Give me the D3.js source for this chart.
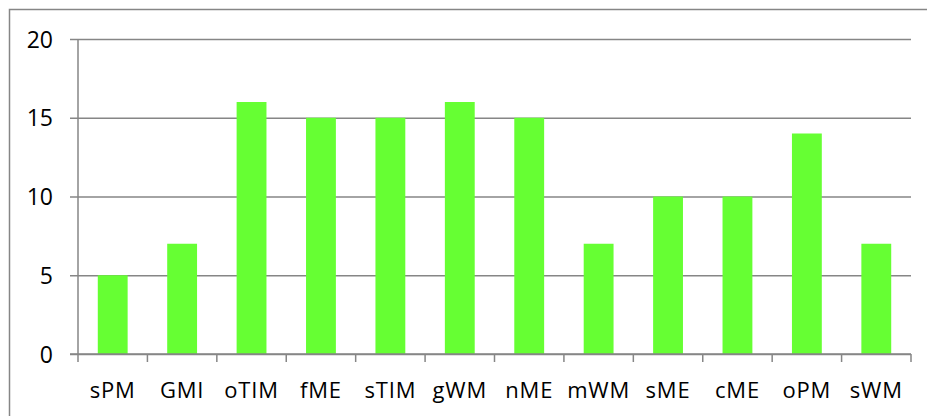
<!DOCTYPE html>
<html>
<head>
<meta charset="utf-8">
<script src="https://cdn.jsdelivr.net/npm/d3@7"></script>
<style>
  html, body { margin: 0; padding: 0; background: #fff; }
  svg { display: block; }
  text { font-family: "Open Sans", Lato, sans-serif; fill: #000; }
</style>
</head>
<body>
<svg id="chart" width="927" height="416"></svg>
<script>
const categories = ["sPM", "GMI", "oTIM", "fME", "sTIM", "gWM", "nME", "mWM", "sME", "cME", "oPM", "sWM"];
const values = [5, 7, 16, 15, 15, 16, 15, 7, 10, 10, 14, 7];
const yTicks = [0, 5, 10, 15, 20];

const svg = d3.select("#chart");
const plotLeft = 78, plotRight = 911, plotTop = 39, plotBottom = 354;
const gridColor = "#868686";

// outer chart frame
svg.append("rect")
  .attr("x", 9.5).attr("y", 9.5)
  .attr("width", 940).attr("height", 430)
  .attr("fill", "none").attr("stroke", gridColor).attr("stroke-width", 1.5);

const x = d3.scaleBand().domain(categories).range([plotLeft, plotRight]).paddingInner(0.57).paddingOuter(0.285);
const xCat = d3.scaleBand().domain(categories).range([plotLeft, plotRight]);
const y = d3.scaleLinear().domain([0, 20]).range([plotBottom, plotTop]);

// horizontal gridlines with left tick stubs
const yAxis = d3.axisLeft(y).tickValues(yTicks).tickSize(-(plotRight - plotLeft)).tickSizeOuter(0).tickFormat(d3.format("d"));
const gy = svg.append("g").attr("transform", `translate(${plotLeft},0)`).call(yAxis);
gy.select(".domain").remove();
gy.selectAll(".tick line").attr("x1", -8).attr("stroke", gridColor).attr("stroke-width", 1.5);
gy.selectAll(".tick text").attr("font-size", 23).attr("dy", "0.35em").attr("x", -25);

// bars
svg.append("g").selectAll("rect").data(values).join("rect")
  .attr("x", (d, i) => x(categories[i]))
  .attr("width", x.bandwidth())
  .attr("y", d => y(d))
  .attr("height", d => y(0) - y(d))
  .attr("fill", "#66FF33");

// vertical axis line
svg.append("line")
  .attr("x1", plotLeft).attr("x2", plotLeft).attr("y1", plotTop).attr("y2", plotBottom + 8)
  .attr("stroke", gridColor).attr("stroke-width", 1.5);

// baseline and category boundary ticks
svg.append("line")
  .attr("x1", plotLeft - 8).attr("x2", plotRight).attr("y1", plotBottom).attr("y2", plotBottom)
  .attr("stroke", gridColor).attr("stroke-width", 1.5);
const bounds = categories.map(c => xCat(c) + xCat.bandwidth());
svg.append("g").selectAll("line").data(bounds).join("line")
  .attr("x1", d => d).attr("x2", d => d)
  .attr("y1", plotBottom).attr("y2", plotBottom + 8)
  .attr("stroke", gridColor).attr("stroke-width", 1.5);

// category labels
svg.append("g").selectAll("text").data(categories).join("text")
  .attr("x", d => xCat(d) + xCat.bandwidth() / 2)
  .attr("y", 398)
  .attr("text-anchor", "middle")
  .attr("font-size", 22)
  .attr("letter-spacing", 0.8)
  .text(d => d);
</script>
</body>
</html>
